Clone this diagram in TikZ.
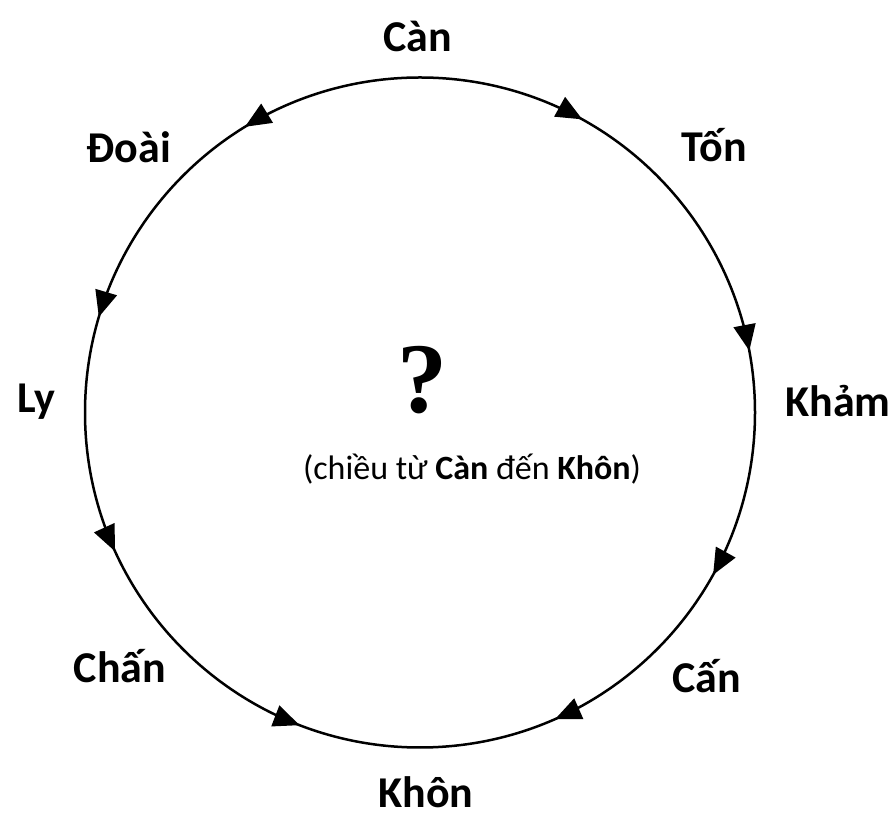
\documentclass[tikz,border=0pt]{standalone}
\usepackage{fontspec}
\setmainfont{Carlito}
\newfontfamily\qfont{Liberation Serif}
\usetikzlibrary{arrows.meta,decorations.markings,calc}
\tikzset{
  lbl/.style={font=\bfseries\fontsize{44}{48}\selectfont, anchor=base, inner sep=0pt},
  ring/.style={line width=2.5pt, black},
}
\begin{document}
\begin{tikzpicture}[x=1pt,y=1pt]
\useasboundingbox (0,0) rectangle (894,819);
\fill[white] (0,0) rectangle (894,819);
\coordinate (O) at (420,406.5);
\def\R{335}
\coordinate (top) at ($(O)+(90:\R)$);
% labels
\node[lbl] (can) at (418,767) {Càn};
\node[lbl] (ton) at (714,657) {Tốn};
\node[lbl] (kham) at (838,402) {Khảm};
\node[lbl] (canb) at (707,126) {Cấn};
\node[lbl] (khon) at (426,11) {Khôn};
\node[lbl] (chan) at (120,136) {Chấn};
\node[lbl] (ly) at (36,406) {Ly};
\node[lbl] (doai) at (129,656) {Đoài};
\node[anchor=base, inner sep=0pt, font=\qfont\bfseries\fontsize{100}{100}\selectfont] (q) at (422,406) {?};
\node[anchor=base, inner sep=0pt, font=\fontsize{34}{38}\selectfont] (note) at (472,339) {(chiều từ \textbf{Càn} đến \textbf{Khôn})};
% right half: clockwise from top
\draw[ring, postaction={decorate}, decoration={markings,
  mark=at position 0.161 with {\arrow{Triangle[length=26pt,width=22pt]}},
  mark=at position 0.441 with {\arrow{Triangle[length=26pt,width=22pt]}},
  mark=at position 0.661 with {\arrow{Triangle[length=26pt,width=22pt]}},
  mark=at position 0.868 with {\arrow{Triangle[length=26pt,width=22pt]}}}]
  (top) arc[start angle=90, end angle=-90, radius=\R];
% left half: counterclockwise from top
\draw[ring, postaction={decorate}, decoration={markings,
  mark=at position 0.175 with {\arrow{Triangle[length=26pt,width=22pt]}},
  mark=at position 0.408 with {\arrow{Triangle[length=26pt,width=22pt]}},
  mark=at position 0.636 with {\arrow{Triangle[length=26pt,width=22pt]}},
  mark=at position 0.883 with {\arrow{Triangle[length=26pt,width=22pt]}}}]
  (top) arc[start angle=90, end angle=270, radius=\R];
\end{tikzpicture}
\end{document}
